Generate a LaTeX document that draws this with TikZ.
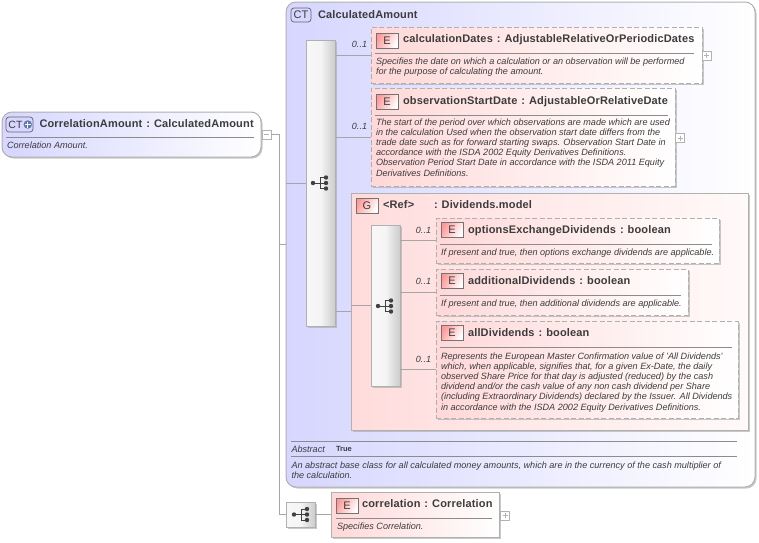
\documentclass[tikz,border=0pt]{standalone}
\usepackage{fontspec}
\setmainfont{Liberation Sans}
\usetikzlibrary{shadows,calc}
\definecolor{ink}{HTML}{3C3C3C}
\definecolor{edge}{HTML}{B0B0B0}
\definecolor{rule}{HTML}{8C8C8C}
\definecolor{ctc}{HTML}{D6D6FF}
\definecolor{elc}{HTML}{FFD8D8}
\definecolor{plusc}{HTML}{5A78A8}
\newfontfamily\ttlfont[LetterSpace=1.5]{Liberation Sans Bold}
\newcommand{\cs}{\hspace{4pt}:\hspace{4pt}}
\tikzset{
 x=1pt,y=-1pt,
 shad/.style={drop shadow={shadow xshift=1.5pt,shadow yshift=-1.5pt,fill=black!35,opacity=.6}},
 box/.style={draw=edge,line width=1pt,inner sep=0,outer sep=0,shad},
 ctbox/.style={box,rounded corners=10pt,left color=ctc,right color=white},
 gpbox/.style={box,left color=elc!90,right color=white!85!elc},
 elbox/.style={box,dashed,dash pattern=on 5pt off 2.5pt,left color=elc,right color=white},
 elsolid/.style={box,left color=elc,right color=white},
 seqbox/.style={box,left color=black!3,right color=black!20,middle color=black!4},
 icon/.style={draw=black!55,line width=.7pt,inner sep=0,outer sep=0,left color=red!40,right color=white,shading angle=60},
 ctic/.style={draw=black!60,line width=.7pt,rounded corners=3pt,inner sep=0,outer sep=0,fill=ctc},
 ttl/.style={anchor=base west,inner sep=0,outer sep=0,text=ink,font=\ttlfont\fontsize{11}{13}\selectfont},
 dsc/.style={anchor=north west,inner sep=0,outer sep=0,text=ink,align=left,font=\itshape\fontsize{9.1}{10.2}\selectfont},
 ictext/.style={text=ink,inner sep=0,outer sep=0,font=\fontsize{11}{12}\selectfont},
 conn/.style={draw=black!35,line width=.7pt},
 sep/.style={draw=rule,line width=.7pt},
 fold/.style={draw=black!30,fill=white,line width=.6pt,inner sep=0,outer sep=0,minimum width=9pt,minimum height=9pt},
}
\newcommand{\rectn}[6]{\node[#6,minimum width={(#4)-(#2)},minimum height={(#5)-(#3)}] (#1) at ({((#2)+(#4))/2},{((#3)+(#5))/2}) {};}
\newcommand{\eic}[4]{\node[icon,minimum width=22pt,minimum height=15pt] (#1) at (#2,#3) {}; \node[ictext] (#1t) at (#1) {#4};}
\newcommand{\seqic}[2]{%
 \fill[black!75] (#1-7,#2) circle (2.2) (#1+6,#2-5.5) circle (2.2) (#1+6,#2) circle (2.2) (#1+6,#2+5.5) circle (2.2);
 \draw[black!75,line width=.7pt] (#1-7,#2) -- (#1+6,#2) (#1,#2-5.5) -- (#1,#2+5.5) (#1,#2-5.5) -- (#1+6,#2-5.5) (#1,#2+5.5) -- (#1+6,#2+5.5);}
\newcommand{\foldp}[3]{\node[fold] (#1) at (#2,#3) {}; \draw[black!30,line width=.6pt] ($(#1.west)+(2,0)$) -- ($(#1.east)+(-2,0)$) ($(#1.north)+(0,2)$) -- ($(#1.south)+(0,-2)$);}
\newcommand{\foldm}[3]{\node[fold] (#1) at (#2,#3) {}; \draw[black!30,line width=.6pt] ($(#1.west)+(2,0)$) -- ($(#1.east)+(-2,0)$);}
\newcommand{\card}[4]{\node[anchor=base east,inner sep=0,outer sep=0,text=ink,font=\itshape\fontsize{9}{10}\selectfont] (#1) at (#2,#3) {#4};}
\begin{document}
\begin{tikzpicture}
\useasboundingbox (0,0) rectangle (759,542);
\rectn{ct}{286}{2}{755}{487}{ctbox}
\rectn{main}{2}{112}{261}{157}{ctbox}
\foldm{fm}{266.5}{134.5}
\coordinate (tr1) at (279,134.5);
\coordinate (tr2) at (279,514.5);
\rectn{seq3}{286}{502}{315}{527}{seqbox}
\rectn{corr}{331}{492}{499}{537}{elsolid}
\draw[conn] (fm.east) -- (tr1) -- (tr2) -- (seq3.west);
\draw[conn] (tr1 |- ct.west) -- (ct.west);
\draw[conn] (seq3.east) -- (corr.west);
% main labels
\node[ctic,minimum width=27pt,minimum height=15pt] (ic0) at (19.5,124.5) {};
\node[ictext,anchor=west,font=\fontsize{10.5}{12}\selectfont] (ic0t) at (8.5,124.5) {CT};
\fill[plusc] (27.8,124.5) circle (4.2);
\draw[white,line width=1.1pt] (24.8,124.5) -- (30.8,124.5) (27.8,121.5) -- (27.8,127.5);
\node[ttl] (t0) at (39.5,127.5) {CorrelationAmount\cs CalculatedAmount};
\draw[sep] (6,137) -- (254,137);
\node[dsc] (d0) at (7,142) {Correlation Amount.};
% CT
\node[ctic,minimum width=20pt,minimum height=14pt] (ic1) at (301,15) {};
\node[ictext] (ic1t) at (ic1) {CT};
\node[ttl] (t1) at (318,18) {CalculatedAmount};
\rectn{seq1}{306}{40}{335}{326}{seqbox}
\seqic{320}{183}
\draw[conn] (ct.west |- seq1.west) -- (seq1.west);
% calculationDates
\rectn{el1}{371}{27}{702}{83}{elbox}
\draw[conn] (seq1.east |- el1.west) -- (el1.west);
\foldp{f1}{706.5}{55.5}
\card{c1}{367}{47}{0..1}
\eic{e1}{387}{40.5}{E}
\node[ttl] (t2) at (403,42) {calculationDates\cs AdjustableRelativeOrPeriodicDates};
\draw[sep] (375,53) -- (694,53);
\node[dsc] (d2) at (376,57.5) {Specifies the date on which a calculation or an observation will be performed\\for the purpose of calculating the amount.};
% observationStartDate
\rectn{el2}{371}{88}{675}{186}{elbox}
\draw[conn] (seq1.east |- el2.west) -- (el2.west);
\foldp{f2}{680}{138}
\card{c2}{367}{129}{0..1}
\eic{e2}{387}{102}{E}
\node[ttl] (t3) at (403,104) {observationStartDate\cs AdjustableOrRelativeDate};
\draw[sep] (375,115) -- (668,115);
\node[dsc] (d3) at (376,118.5) {The start of the period over which observations are made which are used\\in the calculation Used when the observation start date differs from the\\trade date such as for forward starting swaps. Observation Start Date in\\accordance with the ISDA 2002 Equity Derivatives Definitions.\\Observation Period Start Date in accordance with the ISDA 2011 Equity\\Derivatives Definitions.};
% group
\rectn{grp}{351}{193}{748}{430}{gpbox}
\draw[conn] (seq1.east |- grp.west) -- (grp.west);
\eic{e3}{367}{205.5}{G}
\node[ttl] (t4) at (383,208) {<Ref>};
\node[ttl] (t5) at (434,208) {:\hspace{4pt}Dividends.model};
\rectn{seq2}{371}{225}{400}{386}{seqbox}
\seqic{385}{306}
\draw[conn] (grp.west |- seq2.west) -- (seq2.west);
\rectn{el3}{436}{218}{719}{263}{elbox}
\draw[conn] (seq2.east |- el3.west) -- (el3.west);
\card{c3}{431}{233}{0..1}
\eic{e4}{452}{230}{E}
\node[ttl] (t6) at (468,233) {optionsExchangeDividends\cs boolean};
\draw[sep] (440,244) -- (712,244);
\node[dsc] (d6) at (441,249) {If present and true, then options exchange dividends are applicable.};
\rectn{el4}{436}{269}{688}{315}{elbox}
\draw[conn] (seq2.east |- el4.west) -- (el4.west);
\card{c4}{431}{284}{0..1}
\eic{e5}{452}{281}{E}
\node[ttl] (t7) at (468,284) {additionalDividends\cs boolean};
\draw[sep] (440,295) -- (681,295);
\node[dsc] (d7) at (441,300) {If present and true, then additional dividends are applicable.};
\rectn{el5}{436}{321}{738}{418}{elbox}
\draw[conn] (seq2.east |- el5.west) -- (el5.west);
\card{c5}{431}{362}{0..1}
\eic{e6}{452}{333}{E}
\node[ttl] (t8) at (468,336) {allDividends\cs boolean};
\draw[sep] (440,347) -- (732,347);
\node[dsc] (d8) at (441,352.5) {Represents the European Master Confirmation value of 'All Dividends'\\which, when applicable, signifies that, for a given Ex-Date, the daily\\observed Share Price for that day is adjusted (reduced) by the cash\\dividend and/or the cash value of any non cash dividend per Share\\(including Extraordinary Dividends) declared by the Issuer. All Dividends\\in accordance with the ISDA 2002 Equity Derivatives Definitions.};
% abstract
\draw[sep] (291,441) -- (737,441);
\node[dsc,anchor=base west] (ab1) at (291.5,452) {Abstract};
\node[anchor=base west,inner sep=0,outer sep=0,text=ink,font=\bfseries\fontsize{7.5}{9}\selectfont] (ab2) at (336,451.5) {True};
\draw[sep] (291,456) -- (737,456);
\node[dsc] (d9) at (291.5,461.5) {An abstract base class for all calculated money amounts, which are in the currency of the cash multiplier of\\the calculation.};
% correlation
\seqic{301}{514.5}
\foldp{f3}{505}{515.5}
\eic{e7}{347}{505.5}{E}
\node[ttl] (t9) at (362,507.5) {correlation\cs Correlation};
\draw[sep] (336,518) -- (492,518);
\node[dsc] (d10) at (337,522.5) {Specifies Correlation.};
\end{tikzpicture}
\end{document}
